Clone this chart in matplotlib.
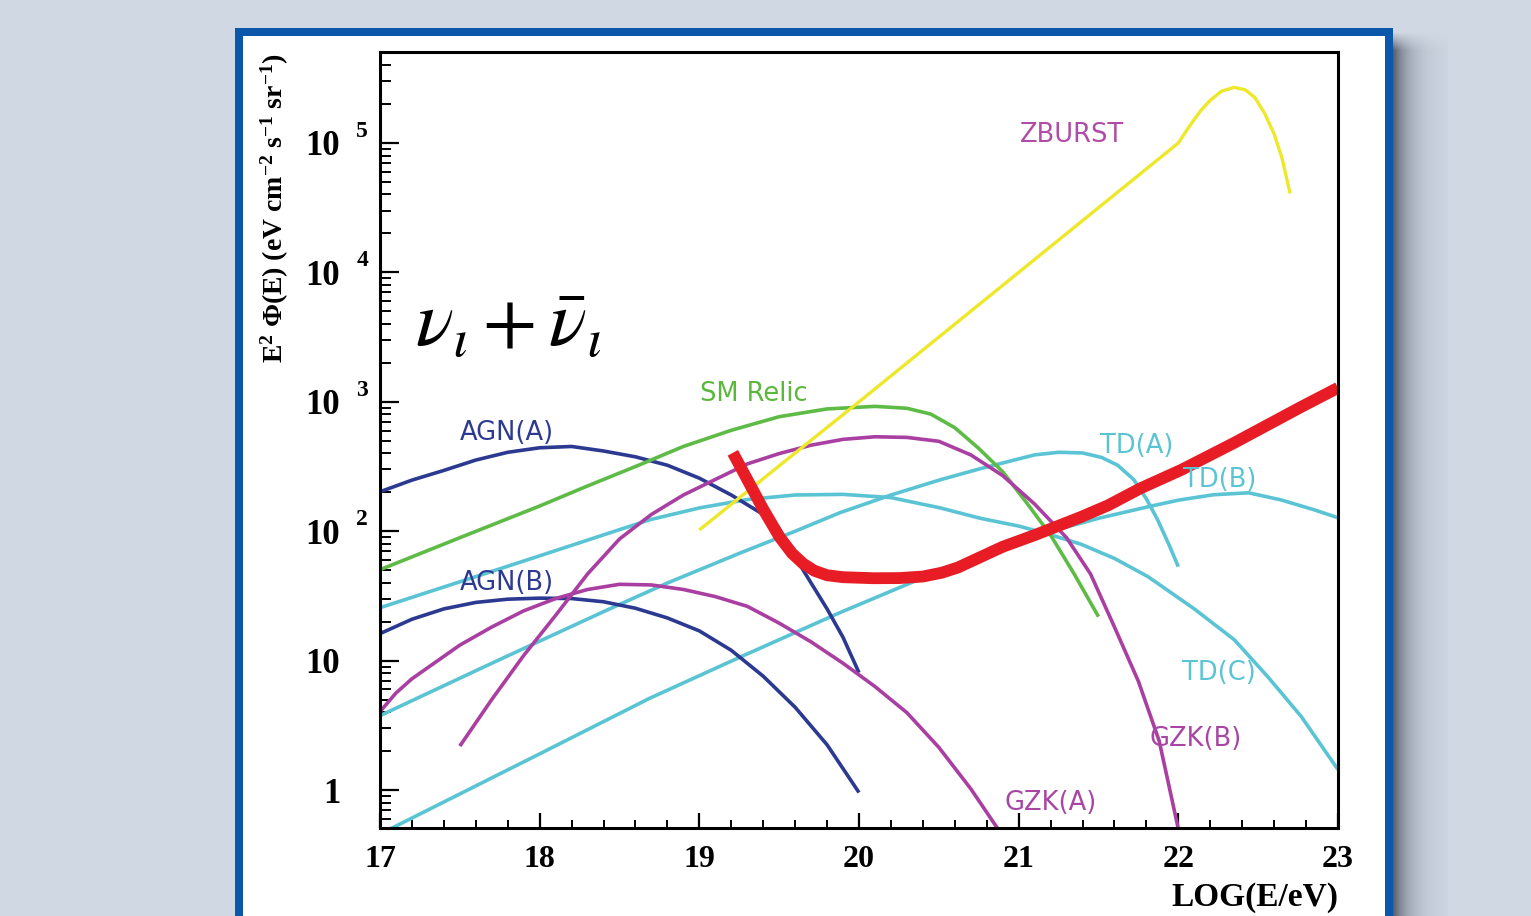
import matplotlib
matplotlib.use('Agg')
import matplotlib.pyplot as plt
import numpy as np
from matplotlib.patches import Rectangle
from matplotlib.ticker import FixedLocator, MultipleLocator, NullFormatter, LogLocator

plt.rcParams['mathtext.fontset'] = 'custom'
plt.rcParams['mathtext.rm'] = 'Liberation Serif:bold'
plt.rcParams['mathtext.bf'] = 'Liberation Serif:bold'
plt.rcParams['mathtext.it'] = 'Liberation Serif:italic'

# ---------------- data (x = log10(E/eV), values = log10(E^2 Phi)) ----------------
agn_a_x = [17.0, 17.2, 17.4, 17.6, 17.8, 18.0, 18.2, 18.4, 18.6, 18.8, 19.0, 19.2, 19.4, 19.5, 19.6, 19.7, 19.8, 19.9, 20.0]
agn_a_y = [2.305, 2.395, 2.47, 2.55, 2.61, 2.645, 2.655, 2.62, 2.575, 2.51, 2.41, 2.28, 2.13, 2.02, 1.80, 1.60, 1.40, 1.18, 0.907]

agn_b_x = [17.0, 17.2, 17.4, 17.6, 17.8, 18.0, 18.2, 18.4, 18.6, 18.8, 19.0, 19.2, 19.4, 19.6, 19.8, 20.0]
agn_b_y = [1.209, 1.32, 1.40, 1.45, 1.475, 1.483, 1.48, 1.455, 1.405, 1.33, 1.23, 1.08, 0.88, 0.64, 0.35, -0.019]

sm_x = [17.0, 17.5, 18.0, 18.3, 18.6, 18.9, 19.2, 19.5, 19.8, 20.1, 20.3, 20.45, 20.6, 20.75, 20.9, 21.05, 21.2, 21.35, 21.5]
sm_y = [1.703, 1.95, 2.195, 2.35, 2.50, 2.655, 2.78, 2.885, 2.945, 2.965, 2.95, 2.905, 2.80, 2.64, 2.46, 2.22, 1.97, 1.665, 1.34]

zb_x = [19.0, 20.0, 21.0, 22.0, 22.07, 22.14, 22.2, 22.27, 22.35, 22.42, 22.48, 22.54, 22.6, 22.65, 22.7]
zb_y = [2.01, 3.0, 4.0, 5.0, 5.13, 5.25, 5.33, 5.40, 5.43, 5.41, 5.35, 5.23, 5.07, 4.88, 4.61]

gzk_a_x = [17.0, 17.1, 17.2, 17.35, 17.5, 17.7, 17.9, 18.1, 18.3, 18.5, 18.7, 18.9, 19.1, 19.3, 19.5,
           19.7, 19.9, 20.1, 20.3, 20.5, 20.7, 20.87]
gzk_a_y = [0.606, 0.75, 0.86, 0.99, 1.12, 1.26, 1.385, 1.48, 1.55, 1.59, 1.585, 1.55, 1.495, 1.42, 1.29,
           1.145, 0.98, 0.80, 0.598, 0.33, 0.01, -0.30]

gzk_b_x = [17.5, 17.7, 17.9, 18.1, 18.3, 18.5, 18.7, 18.9, 19.1, 19.3, 19.5, 19.7, 19.9, 20.1, 20.3,
           20.5, 20.7, 20.9, 21.1, 21.3, 21.45, 21.6, 21.75, 21.88, 22.0]
gzk_b_y = [0.34, 0.70, 1.04, 1.35, 1.67, 1.94, 2.13, 2.28, 2.40, 2.52, 2.60, 2.665, 2.71, 2.73, 2.725,
           2.695, 2.59, 2.43, 2.21, 1.95, 1.67, 1.26, 0.84, 0.38, -0.30]

td_a_x = [17.0, 17.7, 18.42, 18.8, 19.26, 19.6, 19.88, 20.2, 20.51, 20.75, 20.93, 21.1, 21.25, 21.4,
          21.52, 21.62, 21.72, 21.8, 21.87, 21.94, 22.0]
td_a_y = [0.575, 0.98, 1.39, 1.60, 1.834, 2.0, 2.143, 2.28, 2.398, 2.48, 2.537, 2.59, 2.61, 2.605,
          2.57, 2.51, 2.40, 2.25, 2.089, 1.90, 1.726]

td_b_x = [17.0, 17.5, 18.0, 18.69, 19.26, 19.88, 20.37, 20.8, 21.24, 21.5, 21.81, 22.0, 22.22, 22.44,
          22.64, 22.85, 23.0]
td_b_y = [-0.34, -0.03, 0.28, 0.71, 1.03, 1.371, 1.625, 1.83, 2.012, 2.10, 2.189, 2.24, 2.282, 2.297,
          2.243, 2.166, 2.104]

td_c_x = [17.0, 17.31, 18.0, 18.69, 19.0, 19.3, 19.6, 19.9, 20.2, 20.51, 20.76, 21.0, 21.18, 21.39,
          21.6, 21.81, 22.1, 22.35, 22.56, 22.77, 23.0]
td_c_y = [1.409, 1.533, 1.81, 2.089, 2.18, 2.245, 2.28, 2.285, 2.26, 2.18, 2.10, 2.04, 1.98, 1.90,
          1.79, 1.649, 1.40, 1.162, 0.876, 0.568, 0.158]

red_x = [19.21, 19.3, 19.4, 19.5, 19.58, 19.65, 19.72, 19.8, 19.9, 20.09, 20.25, 20.4, 20.52, 20.62,
         20.76, 20.9, 21.1, 21.39, 21.56, 21.76, 22.02, 22.35, 22.77, 23.0]
red_y = [2.606, 2.40, 2.17, 1.96, 1.83, 1.75, 1.695, 1.66, 1.645, 1.637, 1.638, 1.65, 1.68, 1.72,
         1.80, 1.88, 1.97, 2.11, 2.20, 2.33, 2.475, 2.683, 2.961, 3.108]

x_ticks = [17, 18, 19, 20, 21, 22, 23]
y_ticks = [1, 10, 100, 1e3, 1e4, 1e5]
y_tick_labels = ['1', '10', '10', '10', '10', '10']
y_exponents = {100: '2', 1e3: '3', 1e4: '4', 1e5: '5'}

labels = [
    ('AGN(A)', 17.50, 2.761, '#2e3a92'),
    ('AGN(B)', 17.50, 1.602, '#2e3a92'),
    ('SM Relic', 19.006, 3.062, '#5cb83c'),
    ('ZBURST', 21.01, 5.062, '#b04ca8'),
    ('TD(A)', 21.51, 2.660, '#5ac4d4'),
    ('TD(B)', 22.03, 2.398, '#5ac4d4'),
    ('TD(C)', 22.02, 0.907, '#5ac4d4'),
    ('GZK(B)', 21.82, 0.398, '#a845a5'),
    ('GZK(A)', 20.91, -0.097, '#a845a5'),
]

# ---------------- figure & decoration ----------------
W, H = 1531, 916
BG = '#d0d8e4'
fig = plt.figure(figsize=(W / 100, H / 100), dpi=100, facecolor=BG)


def fx(px):
    return px / W


def fy(py):
    return 1 - py / H


fig.patches.append(Rectangle((fx(235), fy(940)), fx(1393) - fx(235), fy(28) - fy(940),
                             transform=fig.transFigure, facecolor='#0b57a9',
                             edgecolor='none', zorder=-10))
fig.patches.append(Rectangle((fx(243), fy(940)), fx(1385) - fx(243), fy(36) - fy(940),
                             transform=fig.transFigure, facecolor='white',
                             edgecolor='none', zorder=-9))

# shadow on the right of the panel
sw, sh = 55, 884
sax = fig.add_axes([fx(1393), 0, sw / W, sh / H], zorder=-8)
xx = np.arange(sw)[None, :]
yy = np.arange(sh)[:, None]
a = np.exp(-xx / 16.0) * np.clip(yy / 18.0, 0, 1)
bg = np.array(matplotlib.colors.to_rgb(BG))
dark = np.array([0.34, 0.37, 0.42])
img = bg[None, None, :] * (1 - a[..., None]) + dark[None, None, :] * a[..., None]
sax.imshow(img, aspect='auto', interpolation='bilinear')
sax.axis('off')

# ---------------- main axes ----------------
ax = fig.add_axes([fx(380), fy(828), fx(1338) - fx(380), fy(52) - fy(828)])
ax.set_facecolor('white')
ax.set_yscale('log')
ax.set_xlim(17, 23)
ax.set_ylim(10 ** -0.293, 10 ** 5.703)

lw = 2.6
cy = '#5ac4d4'
kw = dict(lw=lw, solid_capstyle='butt', solid_joinstyle='round')
for xs, ys in [(td_a_x, td_a_y), (td_b_x, td_b_y), (td_c_x, td_c_y)]:
    ax.plot(xs, 10 ** np.array(ys), color=cy, **kw)
for xs, ys in [(agn_a_x, agn_a_y), (agn_b_x, agn_b_y)]:
    ax.plot(xs, 10 ** np.array(ys), color='#2b3990', **kw)
ax.plot(sm_x, 10 ** np.array(sm_y), color='#5dbb46', **kw)
for xs, ys in [(gzk_a_x, gzk_a_y), (gzk_b_x, gzk_b_y)]:
    ax.plot(xs, 10 ** np.array(ys), color='#aa3fa2', **kw)
ax.plot(zb_x, 10 ** np.array(zb_y), color='#eee82a', lw=2.4, solid_capstyle='butt',
        solid_joinstyle='round')
ax.plot(red_x, 10 ** np.array(red_y), color='#e81c24', lw=8.5, solid_capstyle='butt',
        solid_joinstyle='round')

for txt, x, ly, c in labels:
    ax.text(x, 10 ** ly, txt, color=c, fontsize=18.5, family='DejaVu Sans',
            ha='left', va='center')

ax.text(17.22, 10 ** 3.595, r'$\nu_{\iota}+\bar{\nu}_{\iota}$', fontsize=57,
        math_fontfamily='stix', ha='left', va='center', color='black')

# spines / ticks
for s in ax.spines.values():
    s.set_linewidth(2.2)
    s.set_color('black')
ax.xaxis.set_major_locator(FixedLocator(x_ticks))
ax.xaxis.set_minor_locator(MultipleLocator(0.2))
ax.yaxis.set_major_locator(FixedLocator(y_ticks))
ax.yaxis.set_minor_locator(LogLocator(base=10, subs=np.arange(2, 10)))
ax.yaxis.set_minor_formatter(NullFormatter())
ax.tick_params(which='both', direction='in', top=False, right=False)
ax.tick_params(axis='y', which='major', length=14, width=1.6, pad=28.8)
ax.tick_params(axis='y', which='minor', length=8, width=1.4)
ax.tick_params(axis='x', which='major', length=11, width=1.6, pad=12)
ax.tick_params(axis='x', which='minor', length=6, width=1.4)
ax.set_xticklabels([str(t) for t in x_ticks], family='Liberation Serif',
                   weight='bold', fontsize=23)
ax.set_yticklabels(y_tick_labels, family='Liberation Serif', weight='bold', fontsize=25)

for val, e in y_exponents.items():
    ax.annotate(e, xy=(0, val), xycoords=('axes fraction', 'data'),
                xytext=(-8.6, 8.5), textcoords='offset points', ha='right', va='center',
                fontsize=17, weight='bold', family='Liberation Serif')

ax.text(1.0, -0.089, 'LOG(E/eV)', transform=ax.transAxes, ha='right', va='center',
        fontsize=24, weight='bold', family='Liberation Serif')
ax.text(-0.1096, 0.998, r'E$^{2}$ Φ(E) (eV cm$^{-2}$ s$^{-1}$ sr$^{-1}$)',
        transform=ax.transAxes, rotation=90, ha='center', va='top',
        fontsize=20, weight='bold', family='Liberation Serif')

fig.savefig('out.png', dpi=100, facecolor=BG)
